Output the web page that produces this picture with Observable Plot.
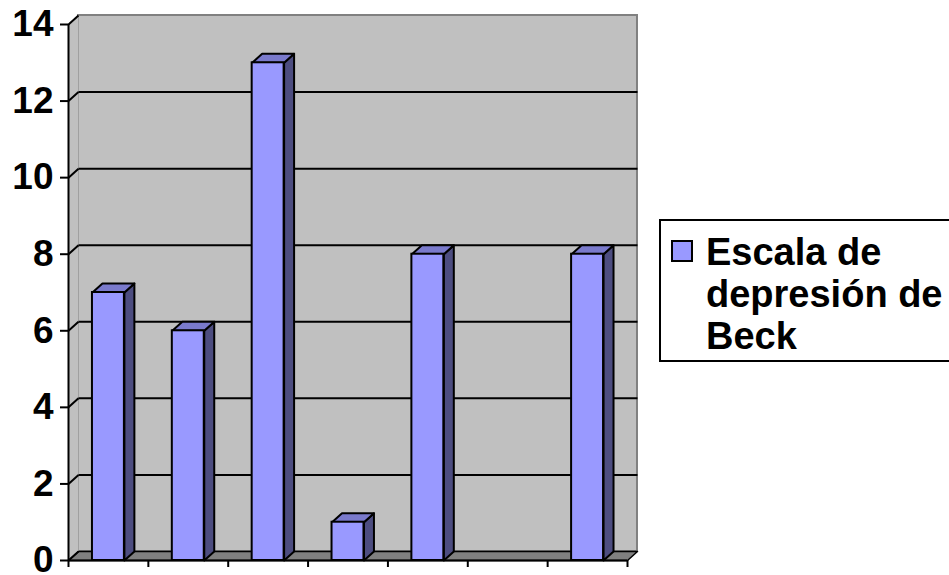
<!DOCTYPE html>
<html>
<head>
<meta charset="utf-8">
<script src="https://cdn.jsdelivr.net/npm/d3@7"></script>
<script src="https://cdn.jsdelivr.net/npm/@observablehq/plot@0.6"></script>
<style>
  html, body { margin: 0; padding: 0; background: white; }
  #wrap { position: relative; width: 949px; height: 575px; overflow: hidden; }
  [aria-label^="y-axis"] line, [aria-label^="y-axis"] path,
  [aria-label^="x-axis"] line, [aria-label^="x-axis"] path { stroke-width: 2px; stroke: black; }
  #legend { position: absolute; left: 659px; top: 219px; width: 320px; height: 143px;
    box-sizing: border-box; border: 2px solid black; background: white; }
  #legend .sw { position: absolute; left: 10px; top: 19px; width: 22px; height: 22px;
    box-sizing: border-box; border: 2px solid black; background: #9999ff; }
  #legend .tx { position: absolute; left: 45px; top: 10px; white-space: nowrap;
    font-family: "Liberation Sans", Arial, sans-serif; font-weight: bold; font-size: 38px; line-height: 42px; color: black; }
</style>
</head>
<body>
<div id="wrap"></div>
<script>
const categories = ["1", "2", "3", "4", "5", "6", "7"];
const values = [7, 6, 13, 1, 8, null, 8];
const yTicks = [0, 2, 4, 6, 8, 10, 12, 14];
const seriesName = ["Escala de", "depresión de", "Beck"];

const n = categories.length;
const yMax = yTicks[yTicks.length - 1];
const BW = 0.4;      // bar width in category units
const DX = 0.125;    // depth offset (x units)
const DY = 0.235;    // depth offset (y units)

const bars = categories.map((c, i) => ({c, i, v: values[i]})).filter(d => d.v != null);

const sidePolys = bars.flatMap(d => {
  const x2 = d.i + 0.5 + BW / 2;
  return [
    {id: d.c, x: x2, y: 0},
    {id: d.c, x: x2 + DX, y: DY},
    {id: d.c, x: x2 + DX, y: d.v + DY},
    {id: d.c, x: x2, y: d.v}
  ];
});
const topPolys = bars.flatMap(d => {
  const x1 = d.i + 0.5 - BW / 2, x2 = d.i + 0.5 + BW / 2;
  return [
    {id: d.c, x: x1, y: d.v},
    {id: d.c, x: x2, y: d.v},
    {id: d.c, x: x2 + DX, y: d.v + DY},
    {id: d.c, x: x1 + DX, y: d.v + DY}
  ];
});
const leftWall = [
  {id: "w", x: 0, y: 0}, {id: "w", x: DX, y: DY},
  {id: "w", x: DX, y: yMax + DY}, {id: "w", x: 0, y: yMax}
];
const floor = [
  {id: "f", x: 0, y: 0}, {id: "f", x: n, y: 0},
  {id: "f", x: n + DX, y: DY}, {id: "f", x: DX, y: DY}
];
const inner = yTicks.filter(v => v > 0 && v < yMax);

const chart = Plot.plot({
  width: 949,
  height: 575,
  marginLeft: 68,
  marginRight: 322,
  marginTop: 24,
  marginBottom: 15,
  style: {fontFamily: "Liberation Sans, Arial, sans-serif", fontSize: "37px", fontWeight: "bold", color: "black", background: "white", overflow: "visible"},
  x: {domain: [0, n], ticks: n, tickFormat: () => "", tickSize: 7, label: null},
  y: {domain: [0, yMax], ticks: yTicks.length - 1, tickSize: 8, tickPadding: 7, label: null},
  marks: [
    // back wall
    Plot.rect([0], {x1: () => DX, x2: () => n + DX, y1: () => DY, y2: () => yMax + DY, fill: "#c0c0c0", stroke: "#808080", strokeWidth: 2}),
    // left wall
    Plot.line(leftWall, {x: "x", y: "y", z: "id", fill: "#c0c0c0", stroke: "none", curve: "linear-closed"}),
    // floor
    Plot.line(floor, {x: "x", y: "y", z: "id", fill: "#808080", stroke: "black", strokeWidth: 1.5, curve: "linear-closed"}),
    // back-wall gridlines
    Plot.link(inner, {x1: () => DX, x2: () => n + DX, y1: v => v + DY, y2: v => v + DY, stroke: "black", strokeWidth: 2}),
    // left-wall slanted gridlines
    Plot.link(yTicks, {x1: () => 0, x2: () => DX, y1: v => v, y2: v => v + DY, stroke: "black", strokeWidth: 2}),
    // axis lines
    Plot.ruleX([0], {y1: 0, y2: yMax, stroke: "black", strokeWidth: 2}),
    Plot.ruleY([0], {x1: 0, x2: n, stroke: "black", strokeWidth: 2}),
    // bars: side, top, front
    Plot.line(sidePolys, {x: "x", y: "y", z: "id", fill: "#4d4d80", stroke: "black", strokeWidth: 2, curve: "linear-closed"}),
    Plot.line(topPolys, {x: "x", y: "y", z: "id", fill: "#7a7acc", stroke: "black", strokeWidth: 2, curve: "linear-closed"}),
    Plot.rect(bars, {x1: d => d.i + 0.5 - BW / 2, x2: d => d.i + 0.5 + BW / 2, y1: () => 0, y2: "v", fill: "#9999ff", stroke: "black", strokeWidth: 2})
  ]
});

const wrap = document.getElementById("wrap");
wrap.appendChild(chart);
const legend = document.createElement("div");
legend.id = "legend";
legend.innerHTML = '<div class="sw"></div><div class="tx">' + seriesName.join("<br>") + '</div>';
wrap.appendChild(legend);
</script>
</body>
</html>
